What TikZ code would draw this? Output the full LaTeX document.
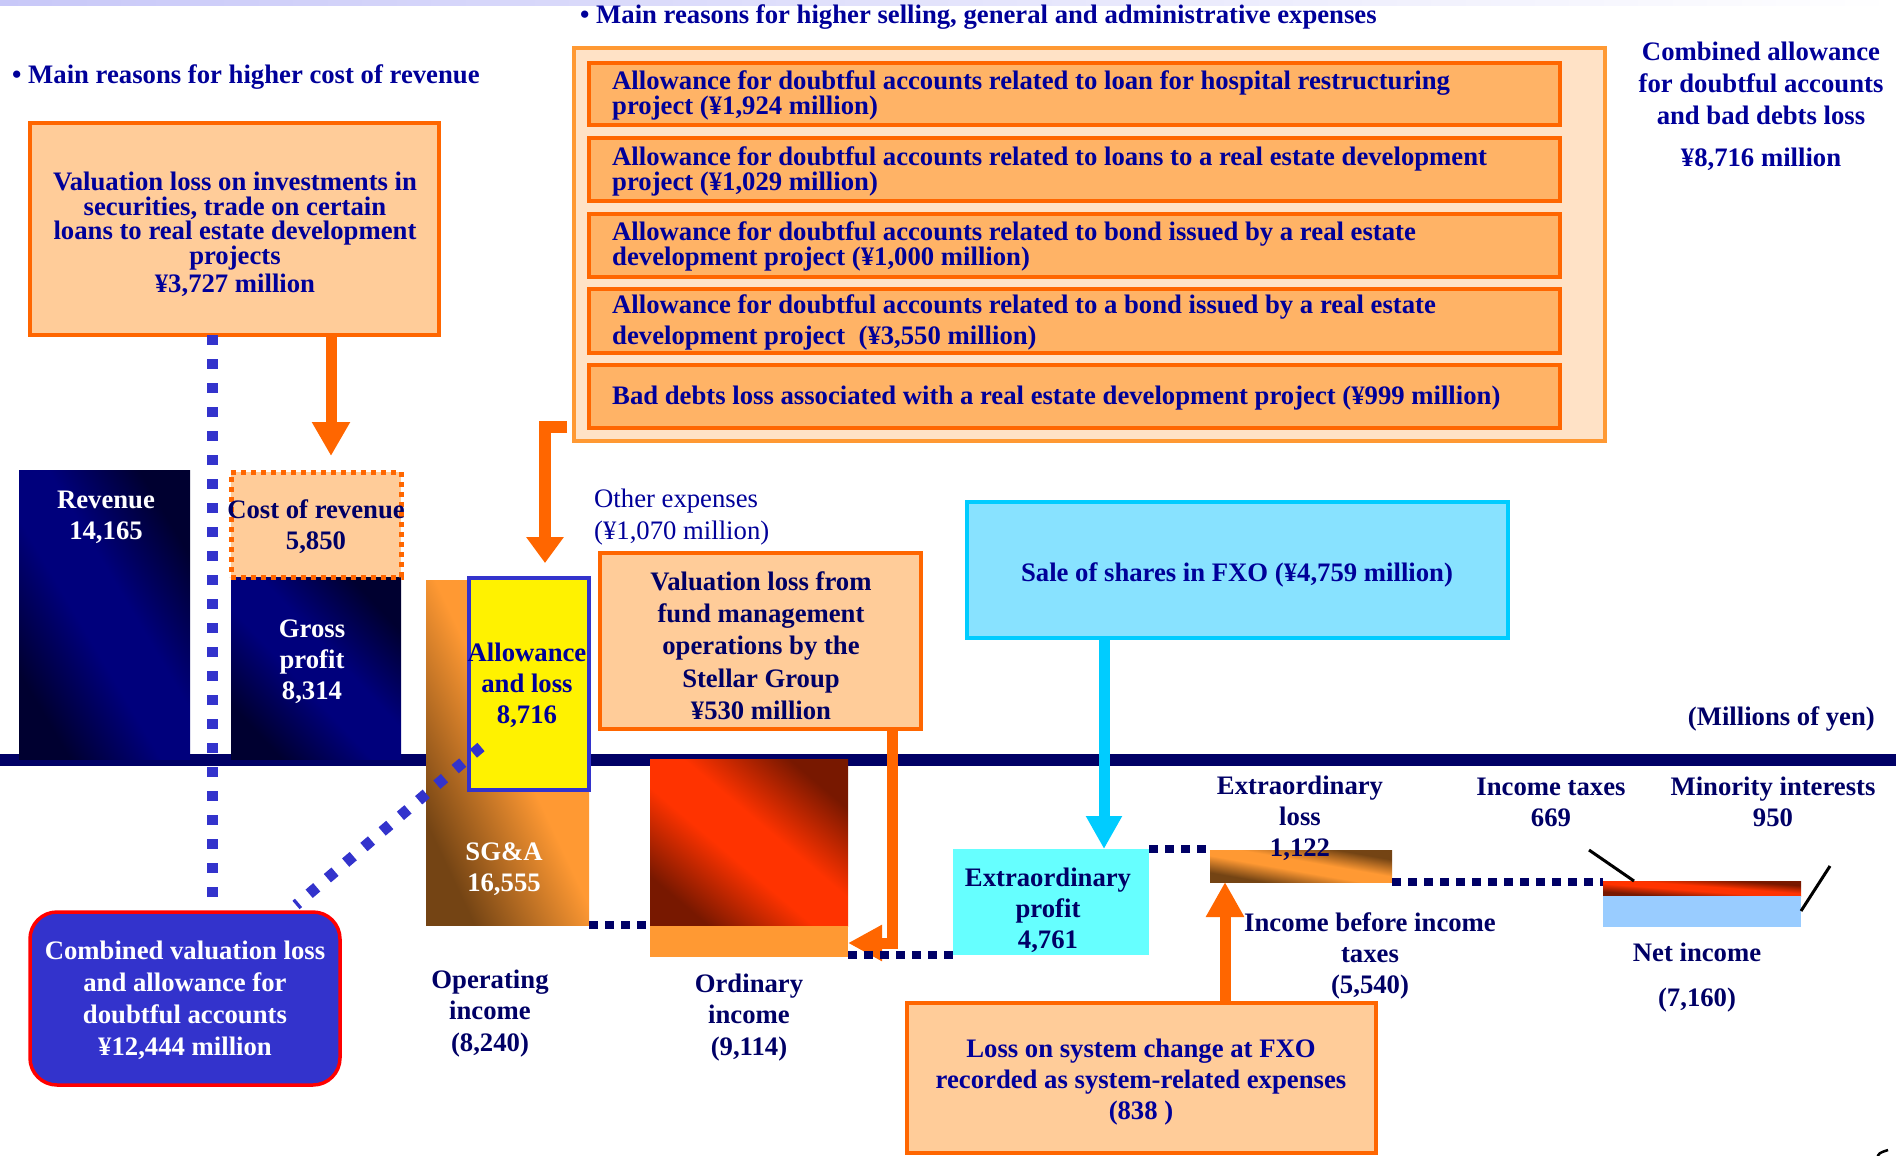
\documentclass[tikz,border=0pt]{standalone}
\usepackage{fontspec}
\setmainfont{Liberation Serif}
\usetikzlibrary{arrows.meta,calc}

\definecolor{ink}{HTML}{000099}
\definecolor{inkdark}{HTML}{000066}
\definecolor{barnavy}{HTML}{00007C}
\definecolor{barnavydark}{HTML}{000030}
\definecolor{orangeline}{HTML}{FF6600}
\definecolor{orangelight}{HTML}{FFCC99}
\definecolor{orangemid}{HTML}{FFB366}
\definecolor{framefill}{HTML}{FFE2C6}
\definecolor{frameline}{HTML}{FF9933}
\definecolor{sgaorange}{HTML}{FF9933}
\definecolor{sgabrown}{HTML}{744414}
\definecolor{cyanline}{HTML}{00CCFF}
\definecolor{cyanfill}{HTML}{88E2FF}
\definecolor{aqua}{HTML}{66FFFF}
\definecolor{dotblue}{HTML}{3333CC}
\definecolor{redhot}{HTML}{FF3300}
\definecolor{reddark}{HTML}{781800}
\definecolor{skyblue}{HTML}{99CCFF}
\definecolor{lavender}{HTML}{C8C8F8}

% gradients: dark at both ends, a broad bright band in the middle
\pgfdeclareverticalshading{navyband}{100bp}{color(0bp)=(barnavydark); color(25bp)=(barnavydark); color(44bp)=(barnavy); color(56bp)=(barnavy); color(75bp)=(barnavydark); color(100bp)=(barnavydark)}
\pgfdeclareverticalshading{redband}{100bp}{color(0bp)=(reddark); color(25bp)=(reddark); color(44bp)=(redhot); color(56bp)=(redhot); color(75bp)=(reddark); color(100bp)=(reddark)}
\pgfdeclareverticalshading{brownband}{100bp}{color(0bp)=(sgabrown); color(25bp)=(sgabrown); color(44bp)=(sgaorange); color(56bp)=(sgaorange); color(75bp)=(sgabrown); color(100bp)=(sgabrown)}
% orange, turning brown only towards the lower-left corner
\pgfdeclareverticalshading{browncorner}{100bp}{color(0bp)=(sgabrown); color(25bp)=(sgabrown); color(52bp)=(sgaorange); color(100bp)=(sgaorange)}

\tikzset{
  barbox/.style={inner sep=0pt, outer sep=0pt, anchor=north west},
  lbl/.style={font=\fontsize{26.7}{31}\selectfont\bfseries, text=inkdark, align=center, inner sep=0pt},
  boxtext/.style={font=\fontsize{26.7}{31}\selectfont\bfseries, text=ink, align=center, inner sep=0pt},
  reasonbox/.style={barbox, draw=orangeline, line width=4pt, fill=orangelight},
  itembox/.style={barbox, draw=orangeline, line width=4.5pt, fill=orangemid},
  itemtext/.style={font=\fontsize{26.7}{24}\selectfont\bfseries, text=ink, align=left, anchor=west, inner sep=0pt},
  navydots/.style={draw=inkdark, line width=8pt, dash pattern=on 9pt off 7pt},
  bluedots/.style={draw=dotblue, line width=11pt, dash pattern=on 10pt off 14pt},
}

% A bar with a diagonal gradient laid out in the bar's own proportions:
% #1 name, #2/#3 top-left corner, #4/#5 width/height, #6 shading name.
\newcommand\shadedbar[6]{%
  \node[barbox, minimum width=#4pt, minimum height=#5pt] (#1) at (#2,#3) {};
  \shade[transform canvas={shift={(#2,#3)}, xscale=#4/100, yscale=#5/100},
         shading=#6, shading angle=-45]
    (0,0) rectangle (100,100);
}

\begin{document}
\begin{tikzpicture}[x=1pt,y=-1pt]
\useasboundingbox (0,0) rectangle (1896,1156);

% thin band along the top edge
\shade[left color=lavender, right color=white] (0,0) rectangle (1896,6);

% the zero line of the chart
\draw[inkdark, line width=12pt] (0,760) -- (1896,760);

% headings
\node[anchor=west, font=\fontsize{26.7}{31}\selectfont\bfseries, text=ink, inner sep=0pt] (hdrcost) at (12,77.5) {• Main reasons for higher cost of revenue};
\node[anchor=west, font=\fontsize{26.7}{31}\selectfont\bfseries, text=ink, inner sep=0pt] (hdrsga) at (580,17) {• Main reasons for higher selling, general and administrative expenses};

% reason behind the cost of revenue
\node[reasonbox, minimum width=409pt, minimum height=212pt] (tlbox) at (30,123) {};
\node[boxtext, font=\fontsize{26.7}{24.5}\selectfont\bfseries] (tltext) at (235,234.5)
  {Valuation loss on investments in\\securities, trade on certain\\loans to real estate development\\projects\\[4pt]¥3,727 million};

% reasons behind SG&A
\node[barbox, draw=frameline, line width=4pt, fill=framefill, minimum width=1031pt, minimum height=393pt] (frame) at (574,48) {};
\node[itembox, minimum width=971pt, minimum height=62pt] (item1) at (589,63) {};
\node[itembox, minimum width=971pt, minimum height=63pt] (item2) at (589,138) {};
\node[itembox, minimum width=971pt, minimum height=63pt] (item3) at (589,214) {};
\node[itembox, minimum width=971pt, minimum height=64pt] (item4) at (589,289) {};
\node[itembox, minimum width=971pt, minimum height=63pt] (item5) at (589,365) {};
\node[itemtext] (item1t) at (612,95.5) {Allowance for doubtful accounts related to loan for hospital restructuring\\project (¥1,924 million)};
\node[itemtext] (item2t) at (612,171.5) {Allowance for doubtful accounts related to loans to a real estate development\\project (¥1,029 million)};
\node[itemtext] (item3t) at (612,246.5) {Allowance for doubtful accounts related to bond issued by a real estate\\development project (¥1,000 million)};
\node[itemtext] (item4t) at (612,322.5) {Allowance for doubtful accounts related to a bond issued by a real estate\\[6pt]development project~~(¥3,550 million)};
\node[itemtext] (item5t) at (612,398) {Bad debts loss associated with a real estate development project (¥999 million)};

\node[boxtext, font=\fontsize{26.7}{32}\selectfont\bfseries] (combsga) at (1761,106)
  {Combined allowance\\for doubtful accounts\\and bad debts loss\\[10pt]¥8,716 million};

% revenue and gross profit
\shadedbar{revenue}{19}{470}{171}{289}{navyband}
\shadedbar{gross}{231}{577}{170}{182}{navyband}
\node[barbox, draw=orangeline, line width=5pt, dash pattern=on 5pt off 5pt, fill=orangelight, minimum width=170pt, minimum height=105pt] (costrev) at (231,472) {};

% SG&A and the allowance within it
\shadedbar{sga}{426}{580}{163}{345}{browncorner}
\node[barbox, draw=dotblue, line width=4pt, fill=yellow, minimum width=120pt, minimum height=212pt] (allow) at (469,578) {};

% other expenses
\node[reasonbox, minimum width=321pt, minimum height=176pt] (fund) at (600,553) {};

% ordinary income
\shadedbar{ordtop}{650}{759}{198}{167}{redband}
\node[barbox, fill=sgaorange, minimum width=198pt, minimum height=31pt] (ordbase) at (650,926) {};

% extraordinary items
\node[barbox, draw=cyanline, line width=4pt, fill=cyanfill, minimum width=541pt, minimum height=136pt] (fxo) at (967,502) {};
\node[barbox, fill=aqua, minimum width=196pt, minimum height=106pt] (extprof) at (953,849) {};
\shadedbar{extloss}{1210}{850}{182}{32}{brownband}
\node[reasonbox, minimum width=469pt, minimum height=150pt] (losssys) at (907,1003) {};

% net income
\shadedbar{netred}{1603}{881}{198}{15}{redband}
\node[barbox, fill=skyblue, minimum width=198pt, minimum height=31pt] (netblue) at (1603,896) {};

% combined valuation loss
\node[barbox, draw=red, line width=3.5pt, fill=dotblue, rounded corners=27pt, minimum width=310pt, minimum height=173pt] (comb) at (30,912) {};

% connectors
\coordinate (cx) at (331,0);
\draw[orangeline, line width=11pt, -{Triangle[width=36pt,length=34pt]}, shorten >=16pt]
  (cx |- tlbox.south) -- (cx |- costrev.north);

\coordinate (bk) at (545,427);
\draw[orangeline, line width=12pt, -{Triangle[width=36pt,length=26pt]}, shorten >=15pt]
  ([xshift=-7pt]frame.west |- bk) -- (bk) -- (bk |- allow.north);

\coordinate (fk) at (892,943);
\draw[orangeline, line width=11pt, -{Triangle[width=34pt,length=34pt]}]
  (fk |- fund.south) -- (fk) -- (fk -| ordbase.east);

\coordinate (cy) at (1104,0);
\draw[cyanline, line width=11pt, -{Triangle[width=34pt,length=33pt]}]
  (cy |- fxo.south) -- (cy |- extprof.north);

\coordinate (up) at (1225,0);
\draw[orangeline, line width=11pt, -{Triangle[width=36pt,length=35pt]}]
  (up |- losssys.north) -- (up |- extloss.south);

\draw[navydots] (sga.south east) -- (sga.south east -| ordbase.west);
\draw[navydots] ([yshift=2pt]ordbase.south east) -- ([yshift=2pt]ordbase.south east -| extprof.west);
\draw[navydots] (extprof.north east) -- (extprof.north east -| extloss.west);
\draw[navydots] (extloss.south east) -- (extloss.south east -| netred.west);

\coordinate (bv) at (212,0);
\draw[bluedots] (bv |- tlbox.south) -- ([yshift=11pt]bv |- comb.north);
\coordinate (dA) at (481,747);
\coordinate (dB) at (296,905);
\draw[bluedots] (dA) -- (dB);

% leader lines for taxes and minority interests
\draw[black, line width=3pt] (1589,850) -- (netred.north west -| 1634,0);
\draw[black, line width=3pt] (1830,866) -- (netblue.east |- 0,911);

% small mark at the lower right corner
\draw[black, line width=2.5pt] (1877,1158) .. controls (1879,1153) .. (1888,1150);

% labels
\node[lbl, text=white] (revt) at (106,517.5) {Revenue\\14,165};
\node[lbl, text=white] (grosst) at (312,661.5) {Gross\\profit\\8,314};
\node[lbl] (costt) at (316,526.5) {Cost of revenue\\5,850};
\node[lbl, text=white] (sgat) at (504,869.5) {SG\&A\\16,555};
\node[boxtext] (allowt) at (527,685.5) {Allowance\\and loss\\8,716};
\node[anchor=west, font=\fontsize{26.7}{32}\selectfont, text=ink, align=left, inner sep=0pt] (othert) at (594,517.5) {Other expenses\\(¥1,070 million)};
\node[lbl, font=\fontsize{26.7}{32.3}\selectfont\bfseries] (fundt) at (761,645.5) {Valuation loss from\\fund management\\operations by the\\Stellar Group\\¥530 million};
\node[lbl, font=\fontsize{26.7}{31.5}\selectfont\bfseries] (opt) at (490,1013.5) {Operating\\income\\(8,240)};
\node[lbl, font=\fontsize{26.7}{31.5}\selectfont\bfseries] (ordt) at (749,1017.5) {Ordinary\\income\\(9,114)};
\node[boxtext] (fxot) at (1237,574.5) {Sale of shares in FXO (¥4,759 million)};
\node[lbl] (extproft) at (1048,910.5) {Extraordinary\\profit\\4,761};
\node[lbl] (extlosst) at (1300,818.5) {Extraordinary\\loss\\1,122};
\node[lbl] (ibtt) at (1370,955.5) {Income before income\\taxes\\(5,540)};
\node[boxtext] (losssyst) at (1141,1082.5) {Loss on system change at FXO\\recorded as system-related expenses\\(838 )};
\node[lbl] (taxt) at (1551,802) {Income taxes\\669};
\node[lbl] (minort) at (1773,802) {Minority interests\\950};
\node[lbl] (nett) at (1697,952) {Net income};
\node[lbl] (netv) at (1697,1000) {(7,160)};
\node[lbl, anchor=east] (unitt) at (1875,718.5) {(Millions of yen)};
\node[lbl, text=white, font=\fontsize{26.7}{32}\selectfont\bfseries] (combt) at (185,1000) {Combined valuation loss\\and allowance for\\doubtful accounts\\¥12,444 million};
\end{tikzpicture}
\end{document}
